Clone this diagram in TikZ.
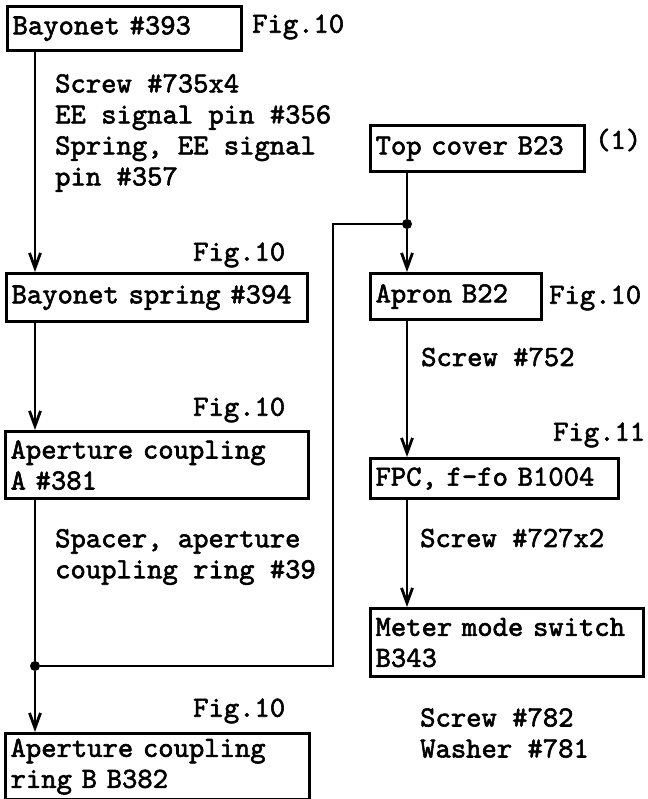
\documentclass[tikz,border=0pt]{standalone}
\usepackage{fontspec}
\newfontfamily\typew[FakeBold=2]{lmmono10-regular.otf}
\usetikzlibrary{arrows.meta,positioning,calc}

\begin{document}
\begin{tikzpicture}[
  x=1pt, y=-1pt,
  part/.style={
    draw, line width=3.2pt, anchor=north west, align=left,
    inner xsep=5pt, inner ysep=0pt, font=\fontsize{29.2}{31}\typew,
  },
  note/.style={
    anchor=west, align=left, inner sep=0pt, font=\fontsize{29.2}{31}\typew,
  },
  link/.style={line width=2.8pt, -{Straight Barb[length=15pt,width=11pt]}},
  wire/.style={line width=2.8pt},
  dot/.style={circle, fill, inner sep=0pt, minimum size=10pt},
]
\useasboundingbox (0,0) rectangle (647,799);

% columns of the connectors
\coordinate (lx) at (35,0);
\coordinate (rx) at (407,0);

% left column
\node[part, text width=224pt, minimum height=44pt] (p393) at (6,5) {Bayonet \#393};
\node[note] (f393) at (252,27) {Fig.10};
\node[note] (n393) at (55,133) {Screw \#735x4\\EE signal pin \#356\\Spring, EE signal\\pin \#357};

\node[note] (f394) at (193,255) {Fig.10};
\node[part, text width=291pt, minimum height=48pt] (p394) at (5,272) {Bayonet spring \#394};

\node[note] (f381) at (193,410) {Fig.10};
\node[part, text width=293pt, minimum height=67pt] (p381) at (4,430) {Aperture coupling\\A \#381};
\node[note] (n381) at (55,557) {Spacer, aperture\\coupling ring \#39};

\node[dot] (j1) at (35,666) {};
\node[note] (f382) at (193,711) {Fig.10};
\node[part, text width=294pt, minimum height=66pt] (p382) at (4,732) {Aperture coupling\\ring B B382};

% right column
\node[part, text width=204pt, minimum height=46pt] (p23) at (369,124) {Top cover B23};
\node[note] (f23) at (595,140) {(1)};
\node[dot] (j2) at (407,224) {};

\node[part, text width=161pt, minimum height=46pt] (p22) at (369,272) {Apron B22};
\node[note] (f22) at (549,298) {Fig.10};
\node[note] (n22) at (421,357) {Screw \#752};

\node[note] (f1004) at (553,435) {Fig.11};
\node[part, text width=238pt, minimum height=40pt] (p1004) at (369,457) {FPC, f-fo B1004};
\node[note] (n1004) at (420,538) {Screw \#727x2};

\node[part, text width=263pt, minimum height=68pt] (p343) at (369,607) {Meter mode switch\\B343};
\node[note] (n343) at (420,733) {Screw \#782\\Washer \#781};

% connectors
\draw[link] (p393.south -| lx) -- (p394.north -| lx);
\draw[link] (p394.south -| lx) -- (p381.north -| lx);
\draw[wire] (p381.south -| lx) -- (j1);
\draw[link] (j1) -- (p382.north -| lx);

\draw[wire] (p23.south -| rx) -- (j2);
\draw[link] (j2) -- (p22.north -| rx);
\draw[link] (p22.south -| rx) -- (p1004.north -| rx);
\draw[link] (p1004.south -| rx) -- (p343.north -| rx);

\coordinate (bend) at (333,224);
\draw[wire] (j1) -| (bend) -- (j2);

\end{tikzpicture}
\end{document}
